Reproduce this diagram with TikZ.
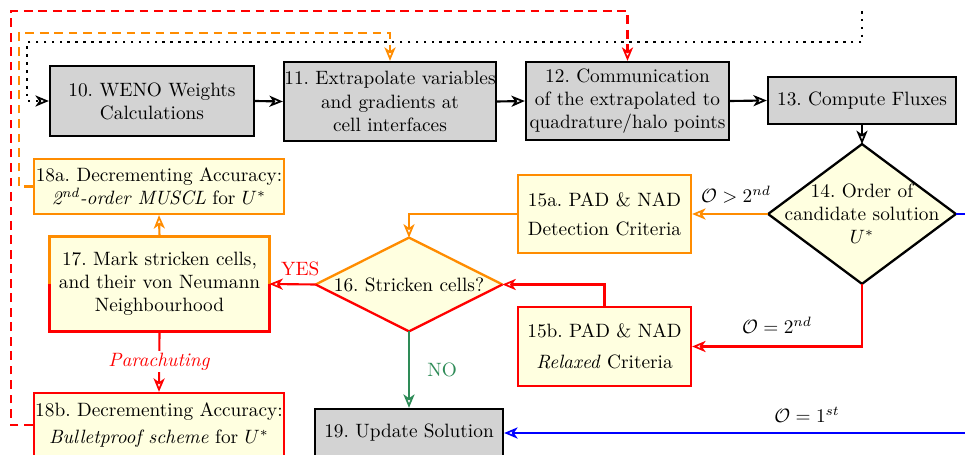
\documentclass[tikz,border=0pt]{standalone}
\usetikzlibrary{arrows.meta,backgrounds,calc}
\definecolor{myorange}{RGB}{255,140,0}
\definecolor{mygreen}{RGB}{46,139,87}
\definecolor{boxgray}{RGB}{211,211,211}
\definecolor{boxyellow}{RGB}{255,255,224}
\newcommand\pxu{0.5181pt}
\begin{document}
\begin{tikzpicture}[x=0.5181pt,y=-0.5181pt,
  gbox/.style={draw=black, line width=1.2pt, fill=boxgray, align=center, inner sep=0pt},
  ybox/.style={fill=boxyellow, align=center, inner sep=0pt},
  tip/.style={-{Stealth[open,fill=white,length=7pt,width=5.8pt,inset=2pt,line width=0.9pt]}},
  con/.style={line width=1.1pt, tip},
  dashline/.style={line width=1.1pt, dash pattern=on 4.5pt off 3pt, tip},
  dotline/.style={line width=1.3pt, dash pattern=on 1.3pt off 2.8pt, tip},
  lbl/.style={inner sep=1pt},
  sz/.style 2 args={minimum width=#1*\pxu, minimum height=#2*\pxu}
]
\useasboundingbox (0,0) rectangle (965,455);
\clip (0,0) rectangle (965,455);

% top row
\node[gbox, sz={204}{70}] (n10) at (152,101) {10.\ WENO Weights\\Calculations};
\node[gbox, sz={212}{79}] (n11) at (390,101.5) {11.\ Extrapolate variables\\and gradients at\\cell interfaces};
\node[gbox, sz={203}{78}] (n12) at (627.5,101) {12.\ Communication\\of the extrapolated to\\quadrature/halo points};
\node[gbox, sz={188}{47}] (n13) at (862,100.5) {13.\ Compute Fluxes};

% decision 14
\node[ybox, fill=none, sz={187}{139}] (d14) at (862,214) {14.\ Order of\\candidate solution\\$U^*$};
% 15a / 15b
\node[ybox, draw=myorange, line width=1.2pt, sz={173}{78}] (n15a) at (604.5,214) {15a.\ PAD \& NAD\\[3pt]Detection Criteria};
\node[ybox, draw=red, line width=1.2pt, sz={173}{79}] (n15b) at (604.5,346.5) {15b.\ PAD \& NAD\\[4pt]\textit{Relaxed} Criteria};
% decision 16
\node[ybox, fill=none, sz={186}{93}] (d16) at (409,284.5) {16.\ Stricken cells?};
% 17, 18a, 18b
\node[ybox, sz={219}{94}] (n17) at (159.5,284) {17.\ Mark stricken cells,\\and their von Neumann\\Neighbourhood};
\node[ybox, draw=myorange, line width=1.2pt, sz={250}{55}] (n18a) at (159,186.5) {18a.\ Decrementing Accuracy:\\\textit{2\textsuperscript{nd}-order MUSCL} for $U^*$};
\node[ybox, draw=red, line width=1.2pt, sz={250}{64}] (n18b) at (159,425) {18b.\ Decrementing Accuracy:\\[2pt]\textit{Bulletproof scheme} for $U^*$};
% 19
\node[gbox, sz={188}{48}] (n19) at (409,433) {19.\ Update Solution};

% diamonds fills behind text
\begin{scope}[on background layer]
  \fill[boxyellow] (d14.north) -- (d14.east) -- (d14.south) -- (d14.west) -- cycle;
  \fill[boxyellow] (d16.north) -- (d16.east) -- (d16.south) -- (d16.west) -- cycle;
\end{scope}
\draw[line width=1.2pt, line join=miter] (d14.north) -- (d14.east) -- (d14.south) -- (d14.west) -- cycle;
\draw[myorange, line width=1.2pt, line join=miter] (d16.west) -- (d16.north) -- (d16.east);
\draw[red, line width=1.2pt, line join=miter] (d16.west) -- (d16.south) -- (d16.east);
\draw[myorange, line width=1.2pt, line join=miter] (n17.west) -- (n17.north west) -- (n17.north east) -- (n17.east);
\draw[red, line width=1.2pt, line join=miter] (n17.west) -- (n17.south west) -- (n17.south east) -- (n17.east);

% main chain
\draw[con] (n10.east) -- (n11.west);
\draw[con] (n11.east) -- (n12.west);
\draw[con] (n12.east) -- (n13.west);
\draw[con] (n13.south) -- (d14.north);

% from 14
\draw[con, myorange] (d14.west) -- node[lbl, above=4pt, xshift=3pt, black] {$\mathcal{O} > 2^{nd}$} (n15a.east);
\draw[con, red] (d14.south) |- node[lbl, pos=0.75, above=5pt, black] {$\mathcal{O} = 2^{nd}$} (n15b.east);
\coordinate (blueR) at (985,214);
\draw[con, blue] (d14.east) -- (blueR) |- node[lbl, pos=0.685, above=4pt, black] {$\mathcal{O} = 1^{st}$} (n19.east);

% into 16
\draw[con, myorange] (n15a.west) -| (d16.north);
\draw[con, red] (n15b.north) |- (d16.east);

% from 16
\draw[con, red] (d16.west) -- node[lbl, above=3pt, xshift=4pt, text=red] {YES} (n17.east);
\draw[con, mygreen] (d16.south) -- node[lbl, right=8pt, text=mygreen] {NO} (n19.north);

% from 17
\draw[con, myorange] (n17.north) -- (n18a.south);
\draw[con, red] (n17.south) -- node[lbl, fill=white, text=red, pos=0.5] {\textit{Parachuting}} (n18b.north);

% feedback loops
\coordinate (oTop) at (19,33);
\draw[dashline, myorange] (n18a.west) -| (oTop) -| (n11.north);
\coordinate (rTop) at (11,11);
\draw[dashline, red] (n18b.west) -| (rTop) -| (n12.north);
\coordinate (dotStart) at (862,11);
\coordinate (dotA) at (862,42);
\coordinate (dotB) at (27,42);
\draw[dotline] (dotStart) -- (dotA) -- (dotB) |- (n10.west);
\end{tikzpicture}
\end{document}
